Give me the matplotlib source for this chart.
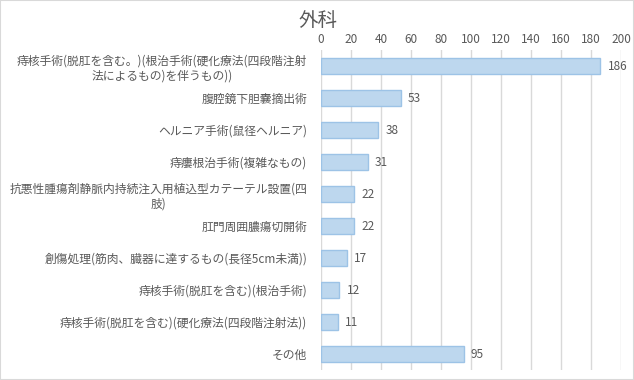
import matplotlib.pyplot as plt
import matplotlib as mpl

mpl.rcParams['font.family'] = ['Noto Sans CJK JP', 'DejaVu Sans']

etiquetas = [
    '痔核手術(脱肛を含む。)(根治手術(硬化療法(四段階注射\n法によるもの)を伴うもの))',
    '腹腔鏡下胆嚢摘出術',
    'ヘルニア手術(鼠径ヘルニア)',
    '痔瘻根治手術(複雑なもの)',
    '抗悪性腫瘍剤静脈内持続注入用植込型カテーテル設置(四\n肢)',
    '肛門周囲膿瘍切開術',
    '創傷処理(筋肉、臓器に達するもの(長径5cm未満))',
    '痔核手術(脱肛を含む)(根治手術)',
    '痔核手術(脱肛を含む)(硬化療法(四段階注射法))',
    'その他',
]
valores = [186, 53, 38, 31, 22, 22, 17, 12, 11, 95]
ticks_x = [0, 20, 40, 60, 80, 100, 120, 140, 160, 180, 200]

gris = '#595959'

fig = plt.figure(figsize=(6.34, 3.8), dpi=100)
fig.patches.append(mpl.patches.Rectangle((0, 0), 1, 1, transform=fig.transFigure,
                                         fill=False, edgecolor='#D9D9D9', lw=1.5))
ax = fig.add_axes([321/634, 1 - 370/380, 300/634, 320/380])

pos = list(range(len(valores)))
ax.barh(pos, valores, height=0.5, color='#BDD7EE', edgecolor='#9DC3E6', lw=1, zorder=3)
for p, v in zip(pos, valores):
    ax.text(v + 5, p, str(v), va='center', ha='left', fontsize=8.5, color=gris)

ax.set_xlim(0, 200)
ax.set_ylim(len(valores) - 0.5, -0.5)
ax.set_xticks(ticks_x)
ax.xaxis.tick_top()
ax.tick_params(axis='x', length=0, labelsize=8.5, labelcolor=gris, pad=3)
ax.set_yticks(pos)
ax.set_yticklabels(etiquetas, fontsize=8.5, color=gris, multialignment='center')
ax.tick_params(axis='y', length=0, pad=10)
ax.grid(axis='x', color='#D9D9D9', lw=1, zorder=0)
for s in ax.spines.values():
    s.set_visible(False)

fig.text(318/634, 1 - 20/380, '外科', ha='center', va='center', fontsize=14, color=gris)

fig.savefig('out.png', dpi=100)
